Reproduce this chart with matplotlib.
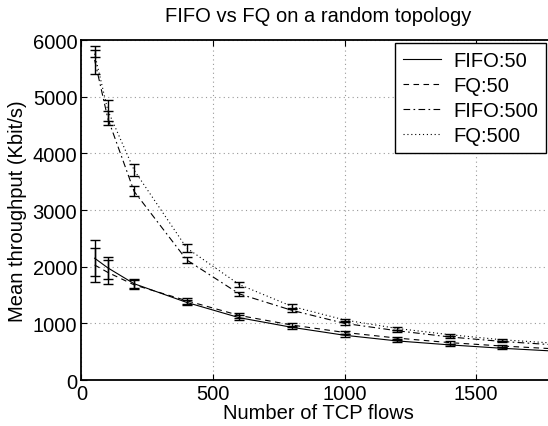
import matplotlib
matplotlib.use('Agg')
import matplotlib.pyplot as plt

plt.rcParams.update({'font.size': 14.5, 'font.family': 'Liberation Sans'})

flows = [50, 100, 200, 400, 600, 800, 1000, 1200, 1400, 1600, 1800]

fifo_50 = [2150, 1980, 1700, 1370, 1100, 930, 790, 690, 620, 560, 510]
fifo_50_err = [315, 195, 80, 50, 40, 30, 25, 20, 20, 15, 15]
fq_50 = [2030, 1900, 1680, 1400, 1140, 970, 840, 740, 660, 600, 550]
fq_50_err = [300, 210, 80, 50, 40, 30, 25, 20, 20, 15, 15]
fifo_500 = [5650, 4620, 3330, 2120, 1520, 1230, 1000, 870, 760, 680, 620]
fifo_500_err = [240, 120, 90, 50, 30, 30, 25, 20, 20, 15, 15]
fq_500 = [5760, 4760, 3705, 2330, 1685, 1300, 1060, 910, 800, 710, 650]
fq_500_err = [60, 190, 105, 70, 45, 35, 25, 20, 20, 15, 15]

series = [
  ('FIFO:50', fifo_50, fifo_50_err, '-'),
  ('FQ:50', fq_50, fq_50_err, (0, (5, 4))),
  ('FIFO:500', fifo_500, fifo_500_err, (0, (6, 3, 1.5, 3))),
  ('FQ:500', fq_500, fq_500_err, (0, (1, 2.5))),
]

fig = plt.figure(figsize=(5.48, 4.27), dpi=100)
ax = fig.add_axes([0.1487, 0.1077, 0.864, 0.796])

for name, y, err, ls in series:
  ax.plot(flows, y, color='black', linestyle=ls, linewidth=0.8, label=name)
  ax.errorbar(flows, y, yerr=err, fmt='none', ecolor='black', elinewidth=1.0,
              capsize=3.5, capthick=1.0)

ax.set_xlim(0, 1800)
ax.set_ylim(0, 6000)
ax.set_xticks([0, 500, 1000, 1500])
ax.set_yticks(range(0, 6001, 1000))
ax.grid(True, linestyle=(0, (1, 3)), color='#999999', linewidth=0.8)
ax.tick_params(direction='in', top=True, right=True, length=4, pad=3)
for s in ax.spines.values():
  s.set_linewidth(1.3)

ax.set_xlabel('Number of TCP flows', labelpad=0)
ax.set_ylabel('Mean throughput (Kbit/s)', labelpad=4)
ax.set_title('FIFO vs FQ on a random topology', fontsize=14.5, pad=14)

leg = ax.legend(loc='upper left', bbox_to_anchor=(395 / 548, 1 - 44 / 427),
                bbox_transform=fig.transFigure, fancybox=False, framealpha=1,
                edgecolor='black', borderaxespad=0, handlelength=1.9,
                labelspacing=0.3, handletextpad=0.6, borderpad=0.4)
leg.get_frame().set_linewidth(1.0)

fig.savefig('out.png', dpi=100)
